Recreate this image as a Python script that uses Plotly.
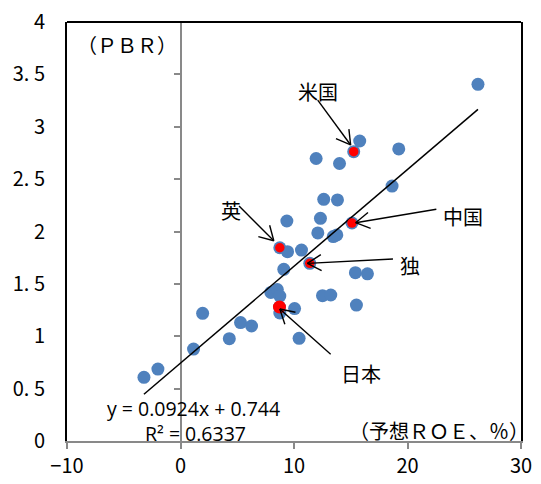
import math
import plotly.graph_objects as go

# ---------------- data ----------------
roe = [26.21, 19.23, 15.79, 15.26, 11.95, 14.01, 18.64, 12.62, 13.83, 12.33,
       9.37, 15.11, 12.10, 13.46, 13.77, 8.75, 9.43, 10.66, 11.39, 9.10,
       15.41, 16.47, 7.96, 8.53, 8.75, 12.51, 13.24, 8.72, 10.05, 8.75,
       15.50, 1.95, 5.29, 6.26, 4.30, 10.45, 1.15, -1.99, -3.22]
pbr = [3.405, 2.788, 2.864, 2.762, 2.697, 2.649, 2.434, 2.307, 2.301, 2.126,
       2.100, 2.081, 1.986, 1.952, 1.967, 1.845, 1.807, 1.823, 1.696, 1.639,
       1.607, 1.596, 1.418, 1.446, 1.384, 1.387, 1.394, 1.279, 1.264, 1.222,
       1.298, 1.219, 1.131, 1.098, 0.977, 0.980, 0.878, 0.687, 0.608]

countries = ["米国", "中国", "英", "独", "日本"]
country_roe = [15.26, 15.11, 8.75, 11.39, 8.72]
country_pbr = [2.762, 2.081, 1.845, 1.696, 1.279]

trend_slope = 0.0924
trend_intercept = 0.744
trend_r2 = 0.6337

x_tickvals = [-10, 0, 10, 20, 30]
x_ticktext = ["−10", "0", "10", "20", "30"]
y_tickvals = [0, 0.5, 1, 1.5, 2, 2.5, 3, 3.5, 4]
y_ticktext = ["0", "0. 5", "1", "1. 5", "2", "2. 5", "3", "3. 5", "4"]

# ---------------- layout constants ----------------
W, H = 541, 484
ML, MR, MT, MB = 67, 20, 22, 43
XR = [-10, 30]
YR = [0, 4]
SX = (W - ML - MR) / (XR[1] - XR[0])
SY = (H - MT - MB) / (YR[1] - YR[0])

BLUE = "#4F81BD"
RED = "#FF0000"
GRAY = "#898989"
JP_FONT = "Noto Sans CJK JP"

# label positions / arrows (annotation layout, data coords): text pos, tail, head
label_layout = {
    "米国": dict(text=(12.09, 3.332), tail=(12.09, 3.255), head=(14.99, 2.826)),
    "中国": dict(text=(24.85, 2.148), tail=(22.54, 2.212), head=(15.43, 2.084)),
    "英": dict(text=(4.43, 2.205), tail=(5.16, 2.243), head=(8.22, 1.912)),
    "独": dict(text=(20.19, 1.680), tail=(18.72, 1.737), head=(11.18, 1.696)),
    "日本": dict(text=(15.94, 0.646), tail=(13.23, 0.828), head=(8.75, 1.260)),
}
country_sizes = {"米国": 9.5, "中国": 9.5, "英": 9.5, "独": 9.5, "日本": 13}

fig = go.Figure()

# blue scatter
fig.add_trace(go.Scatter(x=roe, y=pbr, mode="markers",
                         marker=dict(color=BLUE, size=13, opacity=1, line=dict(width=0)),
                         showlegend=False, hoverinfo="skip"))

# trend line over data range
xmin, xmax = min(roe), max(roe)
fig.add_trace(go.Scatter(x=[xmin, xmax],
                         y=[trend_slope * xmin + trend_intercept, trend_slope * xmax + trend_intercept],
                         mode="lines", line=dict(color="black", width=1.5),
                         showlegend=False, hoverinfo="skip"))

# red highlighted countries
fig.add_trace(go.Scatter(x=country_roe, y=country_pbr, mode="markers",
                         marker=dict(color=RED, size=[country_sizes[c] for c in countries],
                                     opacity=1, line=dict(width=0)),
                         showlegend=False, hoverinfo="skip"))

# dummy trace for the inner (x=0) y axis
fig.add_trace(go.Scatter(x=[None], y=[None], yaxis="y2", showlegend=False, hoverinfo="skip"))

shapes = []
annotations = []


def to_px(x, y):
    return ((x - XR[0]) * SX, (y - YR[0]) * SY)


def to_data(px, py):
    return (px / SX + XR[0], py / SY + YR[0])


for c in countries:
    L = label_layout[c]
    annotations.append(dict(x=L["text"][0], y=L["text"][1], text=c, showarrow=False,
                            xref="x", yref="y",
                            font=dict(family=JP_FONT, size=20, color="black")))
    (tx, ty), (hx, hy) = L["tail"], L["head"]
    shapes.append(dict(type="line", x0=tx, y0=ty, x1=hx, y1=hy, xref="x", yref="y",
                       line=dict(color="black", width=1.4)))
    tpx, tpy = to_px(tx, ty)
    hpx, hpy = to_px(hx, hy)
    ang = math.atan2(tpy - hpy, tpx - hpx)
    for d in (math.radians(30), -math.radians(30)):
        apx = hpx + 16 * math.cos(ang + d)
        apy = hpy + 16 * math.sin(ang + d)
        ax_, ay_ = to_data(apx, apy)
        shapes.append(dict(type="line", x0=hx, y0=hy, x1=ax_, y1=ay_, xref="x", yref="y",
                           line=dict(color="black", width=1.4)))

# top frame line
shapes.append(dict(type="line", x0=0, x1=1, y0=1, y1=1, xref="paper", yref="paper",
                   line=dict(color="black", width=2)))

annotations += [
    dict(x=-4.72, y=3.79, text="（ＰＢＲ）", showarrow=False, xref="x", yref="y",
         font=dict(family=JP_FONT, size=20, color="black")),
    dict(x=29.7, y=0.105, xshift=13, text="（予想ＲＯＥ、％）", showarrow=False,
         xref="x", yref="y", xanchor="right",
         font=dict(family=JP_FONT, size=20, color="black")),
    dict(x=1.13, y=0.31, text=f"y = {trend_slope}x + {trend_intercept}", showarrow=False,
         xref="x", yref="y", font=dict(family="Open Sans", size=19.5, color="black")),
    dict(x=1.35, y=0.075, text=f"R² = {trend_r2}", showarrow=False,
         xref="x", yref="y", font=dict(family="Open Sans", size=19.5, color="black")),
]

fig.update_layout(
    width=W, height=H,
    margin=dict(l=ML, r=MR, t=MT, b=MB, pad=0, autoexpand=False),
    paper_bgcolor="white", plot_bgcolor="white",
    showlegend=False,
    hovermode=False,
    font=dict(family=JP_FONT, size=20, color="black"),
    xaxis=dict(range=XR, tickvals=x_tickvals, ticktext=x_ticktext, automargin=False,
               showgrid=False, zeroline=False, showline=True, linecolor=GRAY, linewidth=2,
               ticks="outside", ticklen=6, tickcolor=GRAY, tickwidth=1.5,
               tickfont=dict(family=JP_FONT, size=20, color="black")),
    yaxis=dict(range=YR, tickvals=y_tickvals, ticktext=y_ticktext, automargin=False,
               showgrid=False, zeroline=False, showline=True, linecolor="black", linewidth=2,
               mirror=True, ticks="", ticklabelstandoff=16,
               tickfont=dict(family=JP_FONT, size=20, color="black")),
    yaxis2=dict(range=YR, overlaying="y", anchor="free", position=0.25, automargin=False,
                tickvals=y_tickvals[1:], showticklabels=False,
                showgrid=False, zeroline=False, showline=True, linecolor=GRAY, linewidth=2,
                ticks="outside", ticklen=6, tickcolor=GRAY, tickwidth=1.5,
                layer="below traces"),
    shapes=shapes,
    annotations=annotations,
)

fig.write_html("out.html", config={"displayModeBar": False},
               post_script="document.body.style.margin='0px';")
